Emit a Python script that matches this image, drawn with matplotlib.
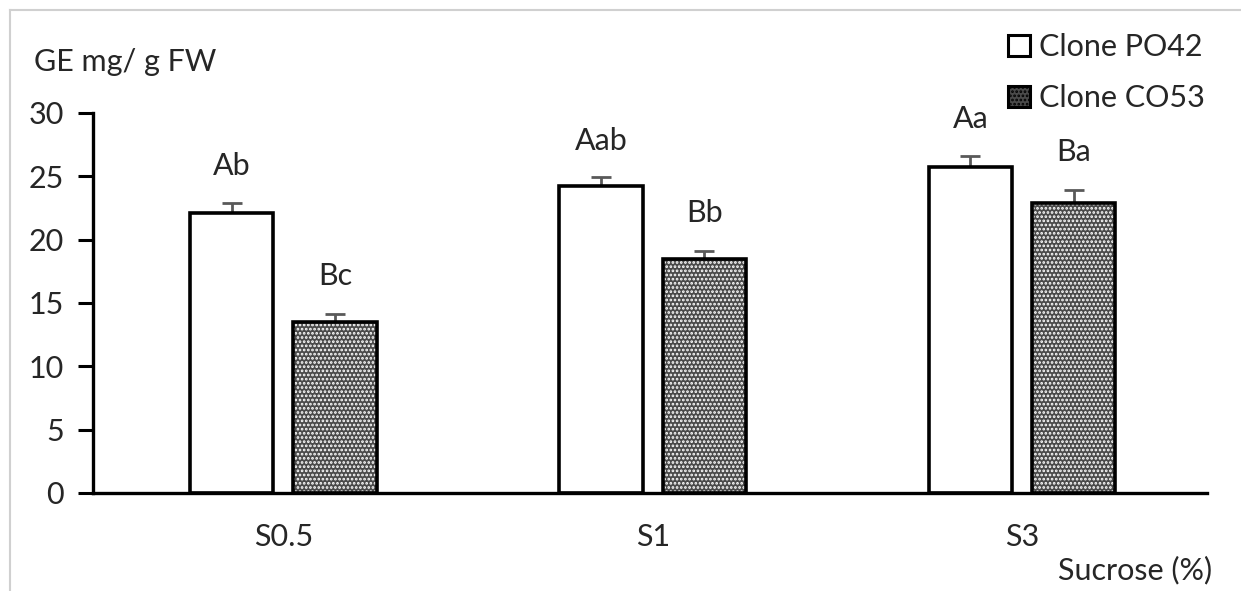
import matplotlib
matplotlib.use("Agg")
from matplotlib import pyplot as plt
from matplotlib.patches import Patch
from matplotlib.lines import Line2D
import numpy as np

plt.rcParams['font.family'] = ['Lato', 'DejaVu Sans']
plt.rcParams['hatch.linewidth'] = 1.3

# data
categories = ['S0.5', 'S1', 'S3']
po42 = [22.1, 24.2, 25.7]
po42_err = [0.8, 0.7, 0.9]
co53 = [13.5, 18.5, 22.9]
co53_err = [0.6, 0.6, 1.0]
po42_labels = ['Ab', 'Aab', 'Aa']
co53_labels = ['Bc', 'Bb', 'Ba']

FS = 22
TXT = '#262626'
fig = plt.figure(figsize=(12.41, 5.91), dpi=100)
ax = fig.add_axes([0.075, 0.166, 0.8975, 0.643])

x = np.arange(len(categories))
off = 0.14
w = 0.225

# white bars (PO42)
ax.bar(x - off, po42, w, color='white', edgecolor='black', linewidth=2.6, zorder=2)
# dotted bars (CO53): fill + hatch, then the outline on top
ax.bar(x + off, co53, w, color='#4a4a4a', edgecolor='white', hatch='....', linewidth=0, zorder=2)
ax.bar(x + off, co53, w, fill=False, edgecolor='black', linewidth=2.6, zorder=3)

ax.errorbar(x - off, po42, yerr=[np.zeros(3), po42_err], fmt='none', ecolor='#595959',
            elinewidth=2, capsize=7, capthick=2, zorder=1)
ax.errorbar(x + off, co53, yerr=[np.zeros(3), co53_err], fmt='none', ecolor='#595959',
            elinewidth=2, capsize=7, capthick=2, zorder=1)

for i in range(len(categories)):
    ax.text(x[i] - off, po42[i] + po42_err[i] + 2.9, po42_labels[i], ha='center', va='center',
            fontsize=FS, color=TXT)
    ax.text(x[i] + off, co53[i] + co53_err[i] + 3.0, co53_labels[i], ha='center', va='center',
            fontsize=FS, color=TXT)

ax.set_xlim(-0.515, 2.5)
ax.set_ylim(0, 30)
ax.set_yticks(range(0, 31, 5))
ax.set_xticks(x)
ax.set_xticklabels(categories)
ax.tick_params(axis='x', length=0, pad=22, labelsize=FS, labelcolor=TXT)
ax.tick_params(axis='y', length=11, width=2.2, pad=10, labelsize=FS, labelcolor=TXT)
for s in ['top', 'right']:
    ax.spines[s].set_visible(False)
for s in ['left', 'bottom']:
    ax.spines[s].set_linewidth(2.4)

fig.text(0.027, 0.895, 'GE mg/ g FW', fontsize=FS, color=TXT, va='center')
fig.text(0.977, 0.035, 'Sucrose (%)', fontsize=FS, color=TXT, ha='right', va='center')

handles = [Patch(facecolor='white', edgecolor='black', linewidth=2.2),
           Patch(facecolor='#4a4a4a', edgecolor='black', hatch='....', linewidth=2.2)]
fig.legend(handles, ['Clone PO42', 'Clone CO53'], loc='upper right', bbox_to_anchor=(0.993, 0.99),
           frameon=False, fontsize=FS, handlelength=0.7, handleheight=0.7, handletextpad=0.3,
           labelspacing=0.75, labelcolor=TXT)

# light frame of the original picture (top and left edges)
fig.add_artist(Line2D([0.008, 1.0], [0.983, 0.983], color='#d0d0d0', linewidth=1.5))
fig.add_artist(Line2D([0.008, 0.008], [0.0, 0.983], color='#d0d0d0', linewidth=1.5))

fig.savefig('out.png', dpi=100)
